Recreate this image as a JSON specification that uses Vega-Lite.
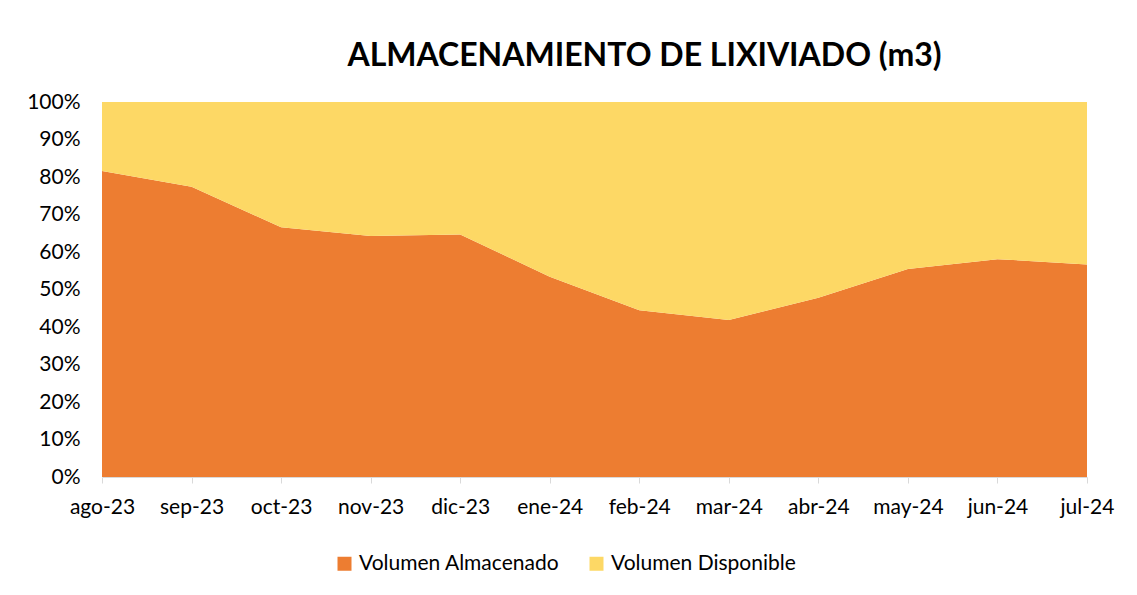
{
  "$schema": "https://vega.github.io/schema/vega-lite/v6.json",
  "autosize": {"type": "none"},
  "width": 985,
  "height": 375,
  "padding": {"left": 102, "top": 102, "right": 50, "bottom": 118},
  "background": "white",
  "title": {
    "text": "ALMACENAMIENTO DE LIXIVIADO (m3)",
    "font": "Lato",
    "fontSize": 32,
    "fontWeight": "bold",
    "color": "#000000",
    "anchor": "middle",
    "dx": 50,
    "offset": 18
  },
  "data": {
    "values": [
      {"mes": "ago-23", "serie": "Volumen Almacenado", "valor": 81.6},
      {"mes": "sep-23", "serie": "Volumen Almacenado", "valor": 77.4},
      {"mes": "oct-23", "serie": "Volumen Almacenado", "valor": 66.6},
      {"mes": "nov-23", "serie": "Volumen Almacenado", "valor": 64.3},
      {"mes": "dic-23", "serie": "Volumen Almacenado", "valor": 64.7},
      {"mes": "ene-24", "serie": "Volumen Almacenado", "valor": 53.4},
      {"mes": "feb-24", "serie": "Volumen Almacenado", "valor": 44.5},
      {"mes": "mar-24", "serie": "Volumen Almacenado", "valor": 41.9},
      {"mes": "abr-24", "serie": "Volumen Almacenado", "valor": 47.8},
      {"mes": "may-24", "serie": "Volumen Almacenado", "valor": 55.5},
      {"mes": "jun-24", "serie": "Volumen Almacenado", "valor": 58.1},
      {"mes": "jul-24", "serie": "Volumen Almacenado", "valor": 56.7},
      {"mes": "ago-23", "serie": "Volumen Disponible", "valor": 18.4},
      {"mes": "sep-23", "serie": "Volumen Disponible", "valor": 22.6},
      {"mes": "oct-23", "serie": "Volumen Disponible", "valor": 33.4},
      {"mes": "nov-23", "serie": "Volumen Disponible", "valor": 35.7},
      {"mes": "dic-23", "serie": "Volumen Disponible", "valor": 35.3},
      {"mes": "ene-24", "serie": "Volumen Disponible", "valor": 46.6},
      {"mes": "feb-24", "serie": "Volumen Disponible", "valor": 55.5},
      {"mes": "mar-24", "serie": "Volumen Disponible", "valor": 58.1},
      {"mes": "abr-24", "serie": "Volumen Disponible", "valor": 52.2},
      {"mes": "may-24", "serie": "Volumen Disponible", "valor": 44.5},
      {"mes": "jun-24", "serie": "Volumen Disponible", "valor": 41.9},
      {"mes": "jul-24", "serie": "Volumen Disponible", "valor": 43.3}
    ]
  },
  "mark": {"type": "area", "opacity": 1},
  "encoding": {
    "x": {
      "field": "mes",
      "type": "nominal",
      "sort": ["ago-23","sep-23","oct-23","nov-23","dic-23","ene-24","feb-24","mar-24","abr-24","may-24","jun-24","jul-24"],
      "scale": {"type": "point", "padding": 0},
      "axis": {
        "title": null,
        "labelAngle": 0,
        "labelFont": "Lato",
        "labelFontSize": 21,
        "labelColor": "#000000",
        "labelPadding": 13,
        "domainColor": "#D9D9D9",
        "tickColor": "#D9D9D9",
        "tickSize": 6,
        "grid": false
      }
    },
    "y": {
      "field": "valor",
      "type": "quantitative",
      "stack": "normalize",
      "scale": {"domain": [0, 1]},
      "axis": {
        "title": null,
        "format": ".0%",
        "values": [0, 0.1, 0.2, 0.3, 0.4, 0.5, 0.6, 0.7, 0.8, 0.9, 1],
        "labelFont": "Lato",
        "labelFontSize": 21,
        "labelColor": "#000000",
        "labelPadding": 22,
        "ticks": false,
        "domain": false,
        "grid": false
      }
    },
    "color": {
      "field": "serie",
      "type": "nominal",
      "scale": {"domain": ["Volumen Almacenado", "Volumen Disponible"], "range": ["#ED7D31", "#FDD865"]},
      "legend": {
        "title": null,
        "orient": "none",
        "legendX": 232,
        "legendY": 451,
        "direction": "horizontal",
        "symbolType": "square",
        "symbolSize": 196,
        "symbolOpacity": 1,
        "symbolStrokeWidth": 0,
        "labelFont": "Lato",
        "labelFontSize": 21,
        "labelColor": "#000000",
        "labelLimit": 0,
        "labelOffset": 4,
        "columnPadding": 26
      }
    },
    "order": {"field": "serie", "sort": "ascending"}
  },
  "config": {"view": {"stroke": null}}
}
